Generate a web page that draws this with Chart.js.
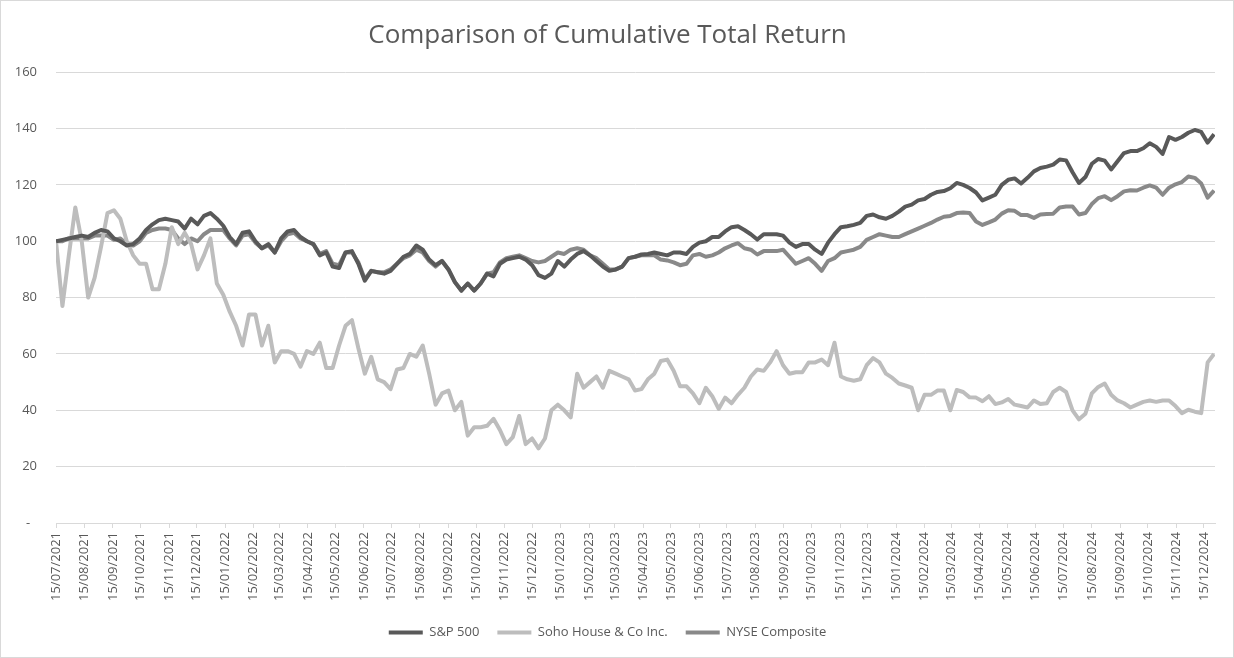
<!DOCTYPE html>
<html>
<head>
<meta charset="utf-8">
<script src="https://cdn.jsdelivr.net/npm/chart.js@4.4.0/dist/chart.umd.min.js"></script>
<style>
  html, body { margin: 0; padding: 0; background: #ffffff; }
  #wrap { width: 1234px; height: 658px; }
</style>
</head>
<body>
<div id="wrap"><canvas id="myChart" width="1234" height="658"></canvas></div>
<script>
/* Weekly samples, first point is 15/07/2021 */
const startDate = '15/07/2021';
const stepDays = 7;

const sp500 = [
  100, 100.5, 101, 101.5, 102, 101.5, 103, 104, 103.5, 101,
  100, 98.5, 99, 101, 104, 106, 107.5, 108, 107.5, 107,
  104.5, 108, 106, 109, 110, 108, 105.5, 101.5, 99, 103,
  103.5, 100, 97.5, 99, 96, 101, 103.5, 104, 101.5, 100,
  99, 95, 96, 91, 90.5, 96, 96.5, 92, 86, 89.5,
  89, 88.5, 89.5, 92, 94.5, 95.5, 98.5, 97, 93.5, 91.5,
  93, 90, 85.5, 82.5, 85, 82.5, 85, 88.5, 87.5, 92,
  93.5, 94, 94.5, 93.5, 91.5, 88, 87, 88.5, 93, 91,
  93.5, 95.5, 96.5, 95, 93, 91, 89.5, 90, 91, 94,
  94.5, 95.3, 95.5, 96, 95.5, 95, 96, 96, 95.5, 98,
  99.5, 100, 101.5, 101.5, 103.5, 105, 105.3, 104, 102.5, 100.6,
  102.5, 102.5, 102.5, 102, 99.5, 98, 99, 99, 97, 95.5,
  99.5, 102.5, 105, 105.3, 105.8, 106.5, 109, 109.5, 108.5, 108,
  109, 110.5, 112.3, 113, 114.5, 115, 116.5, 117.5, 117.8, 118.8,
  120.7, 120, 118.9, 117.3, 114.5, 115.5, 116.5, 120, 121.8, 122.3,
  120.5, 122.5, 124.8, 126, 126.5, 127.2, 129, 128.7, 124.5, 120.7,
  122.8, 127.5, 129.2, 128.6, 125.5, 128.4, 131.3, 132, 132, 133,
  134.8, 133.5, 131, 137, 136, 137, 138.5, 139.5, 138.8, 135,
  138
];

const sohoHouse = [
  100, 77, 95, 112, 100, 80, 87, 98, 110, 111,
  108, 100, 95, 92, 92, 83, 83, 92, 105, 99,
  103, 99, 90, 95, 101, 85, 81, 75, 70, 63,
  74, 74, 63, 70, 57, 61, 61, 60, 55.5, 61,
  60, 64, 55, 55, 63, 70, 72, 62, 53, 59,
  51, 50, 47.5, 54.5, 55, 60, 59, 63, 53, 42,
  46, 47, 40, 43, 31, 34, 34, 34.5, 37, 33,
  28, 30.5, 38, 28, 30, 26.5, 30, 40, 42, 40,
  37.5, 53, 48, 50, 52, 48, 54, 53, 52, 51,
  47, 47.5, 51, 53, 57.5, 58, 54, 48.5, 48.5, 46,
  42.5, 48, 45, 40.5, 44.5, 42.5, 45.5, 48, 52, 54.5,
  54, 57, 61, 56, 53, 53.5, 53.5, 57, 57, 58,
  56, 64, 52, 51, 50.5, 51, 56, 58.5, 57, 53,
  51.5, 49.5, 48.8, 48, 40, 45.5, 45.5, 47, 47, 40,
  47.2, 46.5, 44.6, 44.5, 43.2, 45, 42.2, 42.8, 44, 42,
  41.5, 41, 43.5, 42.2, 42.5, 46.5, 48, 46.5, 40, 36.8,
  38.8, 46, 48.3, 49.5, 45.5, 43.5, 42.5, 41, 42, 43,
  43.5, 43, 43.5, 43.5, 41.5, 39, 40.2, 39.5, 39, 57,
  60
];

const nyseComposite = [
  100, 100, 101, 101, 101, 101, 102, 102, 102, 100.5,
  101, 99, 98.5, 100, 103, 104, 104.5, 104.5, 104, 101,
  99, 101, 100, 102.5, 104, 104, 104, 101, 98.5, 102,
  102.5, 99.5, 97.5, 98.5, 96, 100, 102.5, 103, 101, 100,
  99, 95.5, 96.5, 92, 91.5, 96, 96, 92.5, 86.5, 89.5,
  89, 89, 90, 92, 94, 95, 97, 96, 93, 91,
  93, 90, 85.5, 82.5, 85, 82.5, 85, 88.5, 89, 92.5,
  94, 94.5, 95, 94, 93, 92.5, 93, 94.5, 96, 95.5,
  97, 97.5, 97, 95, 94, 92, 90, 90, 91, 94,
  94.5, 95, 95, 95, 93.5, 93.2, 92.5, 91.5, 92, 95,
  95.5, 94.5, 95, 96, 97.5, 98.5, 99.3, 97.5, 97, 95.3,
  96.5, 96.5, 96.5, 97, 94.5, 92, 93, 94, 92, 89.5,
  93, 94, 96, 96.5, 97, 98, 100.5, 101.5, 102.5, 102,
  101.5, 101.5, 102.5, 103.5, 104.5, 105.5, 106.5, 107.7, 108.7, 109,
  110, 110.2, 110, 107, 105.8, 106.7, 107.7, 109.8, 111, 110.8,
  109.3, 109.3, 108.3, 109.5, 109.7, 109.8, 112, 112.3, 112.3, 109.5,
  110, 113.2, 115.3, 116, 114.6, 116, 117.7, 118.1, 118, 119,
  119.8, 119, 116.5, 119, 120.2, 121, 123, 122.5, 120.5, 115.5,
  118
];

const tickLabels = [
  '15/07/2021', '15/08/2021', '15/09/2021', '15/10/2021', '15/11/2021', '15/12/2021',
  '15/01/2022', '15/02/2022', '15/03/2022', '15/04/2022', '15/05/2022', '15/06/2022',
  '15/07/2022', '15/08/2022', '15/09/2022', '15/10/2022', '15/11/2022', '15/12/2022',
  '15/01/2023', '15/02/2023', '15/03/2023', '15/04/2023', '15/05/2023', '15/06/2023',
  '15/07/2023', '15/08/2023', '15/09/2023', '15/10/2023', '15/11/2023', '15/12/2023',
  '15/01/2024', '15/02/2024', '15/03/2024', '15/04/2024', '15/05/2024', '15/06/2024',
  '15/07/2024', '15/08/2024', '15/09/2024', '15/10/2024', '15/11/2024', '15/12/2024'
];

const yTicks = [0, 20, 40, 60, 80, 100, 120, 140, 160];

/* day offset of a dd/mm/yyyy string from the first date */
function dayOffset(s) {
  let p = s.split('/');
  let q = startDate.split('/');
  let a = Date.UTC(+p[2], +p[1] - 1, +p[0]);
  let b = Date.UTC(+q[2], +q[1] - 1, +q[0]);
  return Math.round((a - b) / 86400000);
}

let tickDays = tickLabels.map(dayOffset);
let labelByDay = {};
tickLabels.forEach((t, i) => { labelByDay[tickDays[i]] = t; });

function toPoints(arr) {
  return arr.map((v, i) => ({ x: i * stepDays, y: v }));
}
let lastDay = (sp500.length - 1) * stepDays + 1;

let fontFamily = '"Open Sans", "Liberation Sans", sans-serif';
let textColor = '#595959';
let gridColor = '#d9d9d9';

/* thin grey frame round the whole chart, like the spreadsheet chart area */
const framePlugin = {
  id: 'frame',
  afterDraw(chart) {
    let ctx = chart.ctx;
    ctx.save();
    ctx.strokeStyle = '#d9d9d9';
    ctx.lineWidth = 1;
    ctx.strokeRect(0.5, 0.5, chart.width - 1, chart.height - 1);
    ctx.restore();
  }
};

let config = {
  type: 'line',
  data: {
    datasets: [{
      label: 'S&P 500',
      data: toPoints(sp500),
      borderColor: '#595959',
      backgroundColor: '#595959',
      borderWidth: 4,
      pointRadius: 0,
      tension: 0,
      borderJoinStyle: 'round'
    }, {
      label: 'Soho House & Co Inc.',
      data: toPoints(sohoHouse),
      borderColor: '#bdbdbd',
      backgroundColor: '#bdbdbd',
      borderWidth: 4,
      pointRadius: 0,
      tension: 0,
      borderJoinStyle: 'round'
    }, {
      label: 'NYSE Composite',
      data: toPoints(nyseComposite),
      borderColor: '#898989',
      backgroundColor: '#898989',
      borderWidth: 4,
      pointRadius: 0,
      tension: 0,
      borderJoinStyle: 'round'
    }]
  },
  options: {
    responsive: false,
    animation: false,
    layout: { padding: { left: 0, right: 19, top: 0, bottom: 9 } },
    plugins: {
      title: {
        display: true,
        text: 'Comparison of Cumulative Total Return',
        color: textColor,
        font: { family: fontFamily, size: 26, weight: 'normal' },
        padding: { top: 20, bottom: 21 }
      },
      legend: {
        position: 'bottom',
        labels: {
          usePointStyle: true,
          pointStyle: 'line',
          pointStyleWidth: 34,
          color: textColor,
          font: { family: fontFamily, size: 13 },
          padding: 18
        }
      },
      tooltip: { enabled: false }
    },
    scales: {
      x: {
        type: 'linear',
        min: 0,
        max: lastDay,
        afterBuildTicks: (scale) => {
          scale.ticks = tickDays.map(v => ({ value: v }));
        },
        afterFit: (scale) => { scale.height = 85; },
        ticks: {
          autoSkip: false,
          minRotation: 90,
          maxRotation: 90,
          padding: 4,
          color: textColor,
          font: { family: fontFamily, size: 13 },
          callback: (v) => labelByDay[v]
        },
        grid: { drawOnChartArea: false, drawTicks: true, tickLength: 5, color: gridColor },
        border: { color: gridColor }
      },
      y: {
        min: 0,
        max: 160,
        afterBuildTicks: (scale) => {
          scale.ticks = yTicks.map(v => ({ value: v }));
        },
        afterFit: (scale) => { scale.width = 56; },
        ticks: {
          padding: 19,
          color: textColor,
          font: { family: fontFamily, size: 13 },
          callback: (v) => v === 0 ? '-  ' : v
        },
        grid: { color: gridColor, drawTicks: false },
        border: { display: false }
      }
    }
  },
  plugins: [framePlugin]
};

let myChart = new Chart(document.getElementById('myChart'), config);
</script>
</body>
</html>
